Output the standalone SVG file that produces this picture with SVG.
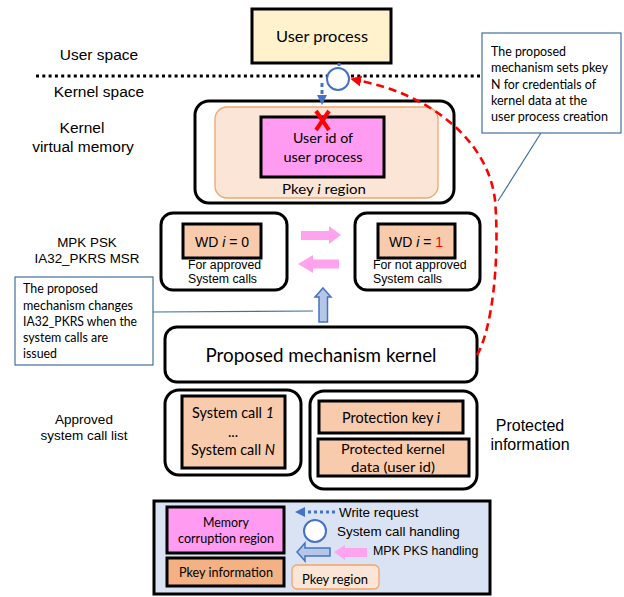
<svg xmlns="http://www.w3.org/2000/svg" width="624" height="597" viewBox="0 0 624 597">
  <defs>
    <style>
      .ar { font-family: "Liberation Sans", Arial, sans-serif; fill: #000; }
      .ca { font-family: Lato, "Open Sans", sans-serif; fill: #000; }
      .mid { text-anchor: middle; }
      .frame { fill: #fff; stroke: #000; stroke-width: 3; }
      .peach { fill: #f8cbad; stroke: #000; stroke-width: 3; }
      .mag { fill: #ff9cf2; stroke: #000; stroke-width: 3; }
      .note { fill: #fff; stroke: #41719c; stroke-width: 1.2; }
      .lead { stroke: #41719c; stroke-width: 1.2; fill: none; }
      .pink { fill: #ffa3ee; stroke: none; }
      .blk { fill: #b4c7e7; stroke: #4472c4; stroke-width: 1.5; }
      .sc { fill: #fff; stroke: #4472c4; stroke-width: 2; }
    </style>
    <marker id="headBlue" markerUnits="userSpaceOnUse" markerWidth="10" markerHeight="10" refX="0" refY="5" orient="auto" viewBox="0 0 10 10">
      <path d="M0,0 L10,5 L0,10 z" fill="#4472c4"/>
    </marker>
    <marker id="headRed" markerUnits="userSpaceOnUse" markerWidth="11" markerHeight="11" refX="0" refY="5.5" orient="auto" viewBox="0 0 11 11">
      <path d="M0,0 L11,5.5 L0,11 z" fill="#ff0000"/>
    </marker>
  </defs>

  <rect width="624" height="597" fill="#fff"/>

  <!-- side labels -->
  <g id="labels">
    <text class="ar mid" x="99" y="60" font-size="15.5">User space</text>
    <text class="ar mid" x="99" y="97" font-size="15.5">Kernel space</text>
    <text class="ar mid" x="82" y="133" font-size="15.5">Kernel</text>
    <text class="ar mid" x="83" y="152" font-size="15.5">virtual memory</text>
    <text class="ar mid" x="87" y="247" font-size="13.4">MPK PSK</text>
    <text class="ar mid" x="87" y="263" font-size="13.4">IA32_PKRS MSR</text>
    <text class="ar mid" x="84" y="424" font-size="13.5">Approved</text>
    <text class="ar mid" x="84" y="440" font-size="13.5">system call list</text>
    <text class="ar mid" x="530" y="431" font-size="16">Protected</text>
    <text class="ar mid" x="530" y="450" font-size="16">information</text>
  </g>

  <!-- user / kernel boundary -->
  <line x1="36" y1="76" x2="481" y2="76" stroke="#000" stroke-width="3" stroke-dasharray="3 3.3"/>

  <g id="user-process">
    <rect x="252" y="9" width="139" height="54" fill="#fff2cc" stroke="#000" stroke-width="3"/>
    <text class="ca mid" x="322" y="42" font-size="16.2" textLength="92" lengthAdjust="spacingAndGlyphs">User process</text>
  </g>

  <g id="kernel-memory">
    <rect class="frame" x="195" y="101" width="259" height="102" rx="14"/>
    <rect x="215" y="107" width="223" height="91" rx="12" fill="#fbe5d6" stroke="#f4a46a" stroke-width="1.3"/>
    <rect class="mag" x="261" y="117" width="123" height="60"/>
    <text class="ca mid" x="323" y="143" font-size="14.2" textLength="60" lengthAdjust="spacingAndGlyphs">User id of</text>
    <text class="ca mid" x="323" y="162" font-size="14.2" textLength="79" lengthAdjust="spacingAndGlyphs">user process</text>
    <text class="ca mid" x="324" y="194" font-size="14" textLength="84" lengthAdjust="spacingAndGlyphs">Pkey <tspan font-style="italic">i</tspan> region</text>
  </g>

  <g id="wd-approved">
    <rect class="frame" x="161" y="213" width="126" height="77" rx="12"/>
    <rect class="peach" x="183" y="224" width="78" height="34"/>
    <text class="ar mid" x="222" y="247" font-size="14">WD <tspan font-style="italic">i</tspan> = 0</text>
    <text class="ar" x="188" y="269" font-size="12.3">For approved</text>
    <text class="ar" x="188" y="283" font-size="12.3">System calls</text>
  </g>

  <g id="wd-not-approved">
    <rect class="frame" x="355" y="213" width="125" height="77" rx="12"/>
    <rect class="peach" x="378" y="224" width="77" height="34"/>
    <text class="ar mid" x="416" y="247" font-size="14">WD <tspan font-style="italic">i</tspan> = <tspan fill="#ff0000">1</tspan></text>
    <text class="ar" x="373" y="269" font-size="12.3">For not approved</text>
    <text class="ar" x="373" y="283" font-size="12.3">System calls</text>
  </g>

  <g id="mechanism-kernel">
    <rect class="frame" x="165" y="327" width="312" height="55" rx="12"/>
    <text class="ca mid" x="321" y="362" font-size="18.5" textLength="231" lengthAdjust="spacingAndGlyphs">Proposed mechanism kernel</text>
  </g>

  <g id="approved-list">
    <rect class="frame" x="165" y="390" width="136" height="85" rx="14"/>
    <rect class="peach" x="182" y="396" width="103" height="72"/>
    <text class="ca mid" x="233" y="418" font-size="14.4" textLength="82" lengthAdjust="spacingAndGlyphs">System call <tspan font-style="italic">1</tspan></text>
    <text class="ca mid" x="233" y="437" font-size="14.4">...</text>
    <text class="ca mid" x="233" y="455" font-size="14.4" textLength="84" lengthAdjust="spacingAndGlyphs">System call <tspan font-style="italic">N</tspan></text>
  </g>

  <g id="protected-info">
    <rect class="frame" x="310" y="391" width="167" height="98" rx="14"/>
    <rect class="peach" x="319" y="401" width="144" height="32"/>
    <text class="ca mid" x="391" y="423" font-size="14.4" textLength="98" lengthAdjust="spacingAndGlyphs">Protection key <tspan font-style="italic">i</tspan></text>
    <rect class="peach" x="318" y="439" width="151" height="37"/>
    <text class="ca mid" x="393" y="454" font-size="14.2" textLength="104" lengthAdjust="spacingAndGlyphs">Protected kernel</text>
    <text class="ca mid" x="393" y="472" font-size="14.2" textLength="84" lengthAdjust="spacingAndGlyphs">data (user id)</text>
  </g>

  <g id="note-pkey">
    <rect class="note" x="482" y="33" width="139" height="100"/>
    <g class="ca" font-size="12.5">
      <text x="491" y="56" textLength="75" lengthAdjust="spacingAndGlyphs">The proposed</text>
      <text x="491" y="72" textLength="117" lengthAdjust="spacingAndGlyphs">mechanism sets pkey</text>
      <text x="491" y="88.5" textLength="105" lengthAdjust="spacingAndGlyphs">N for credentials of</text>
      <text x="491" y="105" textLength="96" lengthAdjust="spacingAndGlyphs">kernel data at the</text>
      <text x="491" y="121" textLength="117" lengthAdjust="spacingAndGlyphs">user process creation</text>
    </g>
  </g>

  <g id="note-pkrs">
    <rect class="note" x="15" y="277" width="138" height="88"/>
    <g class="ca" font-size="12.5">
      <text x="23" y="293" textLength="75" lengthAdjust="spacingAndGlyphs">The proposed</text>
      <text x="23" y="309.5" textLength="110" lengthAdjust="spacingAndGlyphs">mechanism changes</text>
      <text x="23" y="326" textLength="114" lengthAdjust="spacingAndGlyphs">IA32_PKRS when the</text>
      <text x="23" y="342" textLength="85" lengthAdjust="spacingAndGlyphs">system calls are</text>
      <text x="23" y="358" textLength="34" lengthAdjust="spacingAndGlyphs">issued</text>
    </g>
  </g>

  <g id="connectors">
    <!-- note leaders -->
    <line class="lead" x1="541" y1="133" x2="498" y2="201"/>
    <line class="lead" x1="153" y1="312" x2="313" y2="311"/>
    <!-- write request from user process -->
    <line x1="339" y1="63" x2="339" y2="66" stroke="#4472c4" stroke-width="3"/>
    <path d="M322,83 L322,95" stroke="#4472c4" stroke-width="3" stroke-dasharray="4 3" fill="none" marker-end="url(#headBlue)"/>
    <!-- system call handling point -->
    <circle class="sc" cx="338" cy="79" r="11"/>
    <!-- blocked write -->
    <g stroke="#ff0000" stroke-width="4" stroke-linecap="butt">
      <line x1="316" y1="111" x2="329" y2="130"/>
      <line x1="329" y1="111" x2="316" y2="130"/>
    </g>
    <!-- WD switching arrows -->
    <path class="pink" d="M301,231 L329,231 L329,226 L341,235 L329,244 L329,240 L301,240 z"/>
    <path class="pink" d="M298,264 L313,255 L313,259.5 L339,259.5 L339,268.5 L313,268.5 L313,273 z"/>
    <!-- PKRS update -->
    <path class="blk" d="M323,288 L331,297 L327.5,297 L327.5,322 L319,322 L319,297 L315,297 z"/>
    <!-- pkey set at process creation -->
    <path d="M477,355 C492,330 500,260 495,200 C488,140 430,95 361,81" fill="none" stroke="#ff0000" stroke-width="2.6" stroke-dasharray="8 5" marker-end="url(#headRed)"/>
  </g>

  <g id="legend">
    <rect x="154" y="501" width="336" height="93" fill="#dae3f3" stroke="#000" stroke-width="3"/>
    <rect class="mag" x="167" y="507" width="117" height="46"/>
    <text class="ca mid" x="226" y="527" font-size="12.4" textLength="46" lengthAdjust="spacingAndGlyphs">Memory</text>
    <text class="ca mid" x="226" y="543" font-size="12.4" textLength="96" lengthAdjust="spacingAndGlyphs">corruption region</text>
    <rect x="167" y="558" width="117" height="28" fill="#f4b183" stroke="#000" stroke-width="3"/>
    <text class="ca mid" x="226" y="577" font-size="12.4" textLength="94" lengthAdjust="spacingAndGlyphs">Pkey information</text>
    <path d="M335,512 L305,512" stroke="#4472c4" stroke-width="3" stroke-dasharray="3 3" fill="none" marker-end="url(#headBlue)"/>
    <text class="ar" x="339" y="517" font-size="13.4">Write request</text>
    <circle class="sc" cx="315" cy="531" r="11"/>
    <text class="ar" x="337" y="536" font-size="13.4">System call handling</text>
    <path class="blk" d="M297,552 L305,543 L305,548 L330,548 L330,556 L305,556 L305,561 z"/>
    <path class="pink" d="M334,552 L345,545 L345,548 L367,548 L367,557 L345,557 L345,560 z"/>
    <text class="ar" x="373" y="555" font-size="12.4">MPK PKS handling</text>
    <rect x="292" y="565" width="87" height="24" rx="5" fill="#fbe5d6" stroke="#f4a46a" stroke-width="1.3"/>
    <text class="ca mid" x="335" y="584" font-size="12.8" textLength="66" lengthAdjust="spacingAndGlyphs">Pkey region</text>
  </g>
</svg>
